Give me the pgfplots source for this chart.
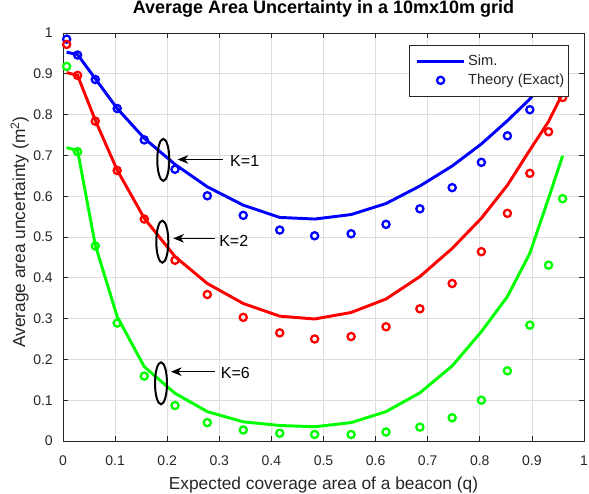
\documentclass[border=0pt]{standalone}
\usepackage{fontspec}
\setmainfont{Liberation Sans}
\usepackage{pgfplots}
\pgfplotsset{compat=1.18}
\usetikzlibrary{arrows.meta}
\definecolor{axcol}{RGB}{38,38,38}
\definecolor{gridcol}{RGB}{222,222,222}
\definecolor{mblue}{RGB}{0,0,255}
\definecolor{mred}{RGB}{255,0,0}
\definecolor{mgreen}{RGB}{0,255,0}

\begin{document}
\begin{tikzpicture}
\begin{axis}[
  scale only axis,
  width=390.75pt, height=306pt,
  xmin=0, xmax=1, ymin=0, ymax=1,
  xtick={0,0.1,0.2,0.3,0.4,0.5,0.6,0.7,0.8,0.9,1},
  ytick={0,0.1,0.2,0.3,0.4,0.5,0.6,0.7,0.8,0.9,1},
  /pgf/number format/assume math mode=true,
  tick label style={font=\fontsize{10.5}{12}\selectfont, text=axcol, inner sep=0pt},
  xticklabel style={anchor=base, yshift=-18pt},
  yticklabel style={anchor=east, xshift=-7.5pt},
  grid=major,
  major grid style={gridcol, line width=0.5pt},
  axis line style={axcol, line width=0.6pt},
  tick style={axcol, line width=0.6pt},
  major tick length=3.75pt,
  clip=false,
  title={\textbf{Average Area Uncertainty in a 10mx10m grid}},
  title style={at={(axis description cs:0.5,1)}, anchor=base, yshift=8.5pt,
    font=\fontsize{13.5}{15}\selectfont, text=black},
  xlabel={Expected coverage area of a beacon (q)},
  xlabel style={at={(axis description cs:0.5,0)}, anchor=base, yshift=-36pt,
    font=\fontsize{13}{15}\selectfont, text=axcol},
  ylabel={Average area uncertainty (m\textsuperscript{2})},
  ylabel style={at={(axis description cs:0,0.512)}, anchor=base, yshift=28.5pt,
    font=\fontsize{13}{15}\selectfont, text=axcol},
  legend style={at={(0.9705,0.9706)}, anchor=north east, draw=axcol, line width=0.6pt,
    fill=white, font=\fontsize{11}{13}\selectfont, text=axcol,
    cells={anchor=west}, inner xsep=1pt, inner ysep=5pt, row sep=1pt},
]
% K=1
\addplot[mblue, line width=2.2pt,
  legend image code/.code={\path[draw=none, fill=none] (0pt,0pt) -- (40pt,0pt);
    \draw[mblue,line width=2.2pt] (5pt,0pt)--(40pt,0pt);}]
  coordinates {(0.007,0.953)(0.028,0.947)(0.062,0.888)(0.104,0.815)(0.156,0.742)
  (0.215,0.678)(0.277,0.623)(0.346,0.578)(0.416,0.548)(0.483,0.544)(0.553,0.555)
  (0.620,0.582)(0.685,0.625)(0.747,0.674)(0.803,0.728)(0.853,0.785)(0.896,0.838)
  (0.932,0.900)(0.959,0.960)};
\addlegendentry{Sim.}
\addplot[mblue, only marks, mark=o, mark size=2.7pt, line width=1.7pt,
  legend image code/.code={\path[draw=none, fill=none] (0pt,0pt) -- (40pt,0pt);
    \draw[mblue,line width=1.7pt] (22.5pt,0pt) circle (2.7pt);}]
  coordinates {(0.007,0.985)(0.028,0.946)(0.062,0.886)(0.104,0.815)(0.156,0.738)
  (0.215,0.666)(0.277,0.601)(0.346,0.553)(0.416,0.517)(0.483,0.503)(0.553,0.508)
  (0.620,0.531)(0.685,0.569)(0.747,0.621)(0.803,0.683)(0.853,0.748)(0.896,0.812)
  (0.932,0.880)(0.959,0.950)};
\addlegendentry{Theory (Exact)}
% K=2
\addplot[mred, line width=2.2pt, forget plot]
  coordinates {(0.007,0.903)(0.028,0.896)(0.062,0.786)(0.104,0.664)(0.156,0.546)
  (0.215,0.452)(0.277,0.386)(0.346,0.337)(0.416,0.306)(0.483,0.299)(0.553,0.315)
  (0.620,0.348)(0.685,0.403)(0.747,0.472)(0.803,0.546)(0.853,0.627)(0.896,0.713)
  (0.932,0.783)(0.959,0.852)};
\addplot[mred, only marks, mark=o, mark size=2.7pt, line width=1.7pt, forget plot]
  coordinates {(0.007,0.972)(0.028,0.896)(0.062,0.784)(0.104,0.663)(0.156,0.544)
  (0.215,0.443)(0.277,0.359)(0.346,0.303)(0.416,0.265)(0.483,0.250)(0.553,0.256)
  (0.620,0.280)(0.685,0.324)(0.747,0.386)(0.803,0.464)(0.853,0.558)(0.896,0.656)
  (0.932,0.758)(0.959,0.842)};
% K=6
\addplot[mgreen, line width=2.2pt, forget plot]
  coordinates {(0.007,0.719)(0.028,0.712)(0.062,0.480)(0.104,0.305)(0.156,0.182)
  (0.215,0.117)(0.277,0.072)(0.346,0.047)(0.416,0.038)(0.483,0.035)(0.553,0.045)
  (0.620,0.072)(0.685,0.118)(0.747,0.184)(0.803,0.268)(0.853,0.354)(0.896,0.460)
  (0.932,0.595)(0.959,0.699)};
\addplot[mgreen, only marks, mark=o, mark size=2.7pt, line width=1.7pt, forget plot]
  coordinates {(0.007,0.918)(0.028,0.709)(0.062,0.478)(0.104,0.289)(0.156,0.159)
  (0.215,0.087)(0.277,0.045)(0.346,0.027)(0.416,0.019)(0.483,0.016)(0.553,0.016)
  (0.620,0.022)(0.685,0.034)(0.747,0.057)(0.803,0.100)(0.853,0.172)(0.896,0.284)
  (0.932,0.431)(0.959,0.594)};

% annotations
\draw[black, line width=1.5pt] (axis cs:0.1925,0.689) ellipse [x radius=4.5pt, y radius=15.75pt];
\draw[black, line width=1.5pt] (axis cs:0.1906,0.4885) ellipse [x radius=4.5pt, y radius=15.75pt];
\draw[black, line width=1.5pt] (axis cs:0.1881,0.1414) ellipse [x radius=4.5pt, y radius=15.75pt];
\draw[black, line width=0.75pt, -{Stealth[length=8pt, width=6.5pt, inset=2.5pt]}]
  (axis cs:0.307,0.690) -- (axis cs:0.220,0.690);
\draw[black, line width=0.75pt, -{Stealth[length=8pt, width=6.5pt, inset=2.5pt]}]
  (axis cs:0.2917,0.4968) -- (axis cs:0.2117,0.4968);
\draw[black, line width=0.75pt, -{Stealth[length=8pt, width=6.5pt, inset=2.5pt]}]
  (axis cs:0.2917,0.1699) -- (axis cs:0.2073,0.1699);
\node[anchor=west, inner sep=0pt, font=\fontsize{12}{14}\selectfont] at (axis cs:0.3205,0.687) {K=1};
\node[anchor=west, inner sep=0pt, font=\fontsize{12}{14}\selectfont] at (axis cs:0.2994,0.4897) {K=2};
\node[anchor=west, inner sep=0pt, font=\fontsize{12}{14}\selectfont] at (axis cs:0.3027,0.1672) {K=6};
\end{axis}
\pgfresetboundingbox
\path[use as bounding box] (-47.25pt,-39pt) rectangle (394.5pt,330.75pt);
\end{tikzpicture}
\end{document}
